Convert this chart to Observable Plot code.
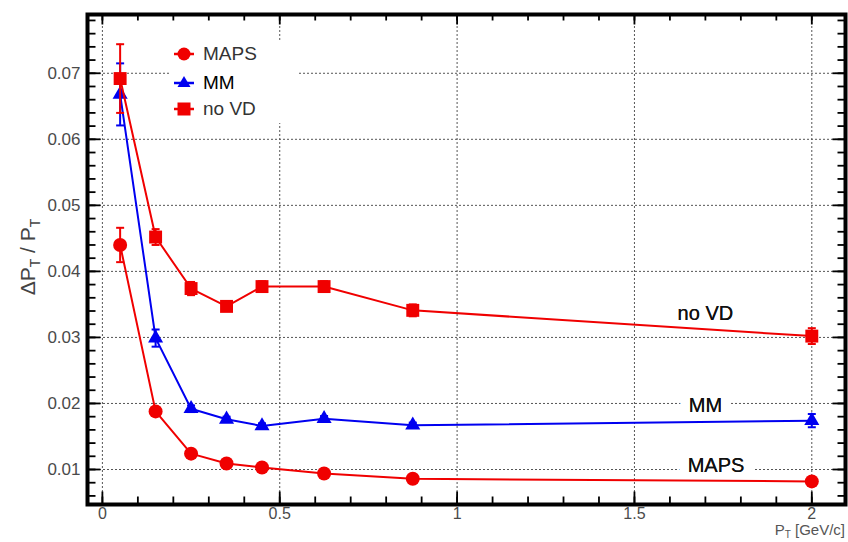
<!DOCTYPE html>
<html><head><meta charset="utf-8">
<script src="https://cdn.jsdelivr.net/npm/d3@7"></script>
<script src="https://cdn.jsdelivr.net/npm/@observablehq/plot@0.6"></script>
<style>
body{margin:0;background:#fff;font-family:"Liberation Sans",Arial,sans-serif}
#wrap{position:relative;width:848px;height:542px}
#legend{position:absolute;left:170px;top:40px;width:127px;height:83px;background:#fff}
.row{position:absolute;left:0;height:24px;width:127px}
.row svg{position:absolute;left:4px;top:0}
.row span{position:absolute;left:33px;top:1px;font-size:19px;color:#333;line-height:22px}
</style></head><body><div id="wrap"></div>
<script>
// data
const pt      = [0.05, 0.15, 0.25, 0.35, 0.45, 0.625, 0.875, 2.0];
const mapsVal = [0.0440, 0.0188, 0.0124, 0.0109, 0.0103, 0.0094, 0.0086, 0.0082];
const mapsErr = [0.0026, 0.0005, 0.0004, 0.0003, 0.0003, 0.0003, 0.0003, 0.0003];
const mmVal   = [0.0668, 0.0299, 0.0192, 0.0176, 0.0166, 0.0177, 0.0167, 0.0174];
const mmErr   = [0.0047, 0.0013, 0.0005, 0.0004, 0.0004, 0.0004, 0.0004, 0.0010];
const novdVal = [0.0692, 0.0452, 0.0374, 0.0347, 0.0377, 0.0377, 0.0341, 0.0302];
const novdErr = [0.0052, 0.0012, 0.0010, 0.0006, 0.0008, 0.0008, 0.0009, 0.0012];
const seriesNames  = ["MAPS", "MM", "no VD"];
const seriesColors = ["#f00000", "#0000f0", "#f00000"];
const seriesSymbols = ["circle", "triangle", "square"];
const xTicks = [0, 0.5, 1, 1.5, 2];
const xTickLabels = ["0", "0.5", "1", "1.5", "2"];
const yTicks = [0.01, 0.02, 0.03, 0.04, 0.05, 0.06, 0.07];
const yTickLabels = ["0.01", "0.02", "0.03", "0.04", "0.05", "0.06", "0.07"];
const curveLabels = ["no VD", "MM", "MAPS"];
const curveLabelX = [1.70, 1.70, 1.73];
const curveLabelY = [0.0336, 0.0197, 0.0106];

const xMinor = d3.range(0, 21).map(i => i / 10);
const yMinor = d3.range(3, 40).map(i => i * 0.002);

const vals = [mapsVal, mmVal, novdVal], errs = [mapsErr, mmErr, novdErr];
const rows = seriesNames.flatMap((s, k) => pt.map((x, i) => ({series: s, x, y: vals[k][i], e: errs[k][i]})));

const W = 848, H = 542, mL = 87, mR = 3, mT = 14, mB = 38;
const cap = {draw(ctx) { ctx.moveTo(-4, 0); ctx.lineTo(4, 0); }};
// inward tick glyphs (length in px)
const seg = (dx, dy) => ({draw(ctx) { ctx.moveTo(0, 0); ctx.lineTo(dx, dy); }});
const font = "Liberation Sans, Arial, sans-serif";
const tk = {stroke: "#000", strokeWidth: 1.8};

const marks = [
  Plot.gridX(xTicks, {stroke: "#555", strokeOpacity: 1, strokeDasharray: "2,2"}),
  Plot.gridY(yTicks, {stroke: "#555", strokeOpacity: 1, strokeDasharray: "2,2"}),
  Plot.text(curveLabels, {x: (d, i) => curveLabelX[i], y: (d, i) => curveLabelY[i], text: d => d,
    fontSize: 20, fill: "#111", stroke: "white", strokeWidth: 20, fontFamily: font})
];
seriesNames.forEach((s, k) => {
  const d = rows.filter(r => r.series === s);
  const c = seriesColors[k];
  marks.push(
    Plot.line(d, {x: "x", y: "y", stroke: c, strokeWidth: 2}),
    Plot.ruleX(d, {x: "x", y1: r => r.y - r.e, y2: r => r.y + r.e, stroke: c, strokeWidth: 2}),
    Plot.dot(d, {x: "x", y: r => r.y + r.e, symbol: cap, stroke: c, strokeWidth: 2}),
    Plot.dot(d, {x: "x", y: r => r.y - r.e, symbol: cap, stroke: c, strokeWidth: 2}),
    Plot.dot(d, {x: "x", y: "y", symbol: seriesSymbols[k], fill: c, stroke: "none",
      r: k === 1 ? 5.6 : (k === 2 ? 7.3 : 7)})
  );
});
marks.push(
  Plot.text(curveLabels, {x: (d, i) => curveLabelX[i], y: (d, i) => curveLabelY[i], text: d => d,
    fontSize: 20, fill: "#111", fontFamily: font}),
  Plot.frame({stroke: "#000", strokeWidth: 4}),
  // inward ticks on all four sides
  Plot.dot(yMinor, {y: d => d, frameAnchor: "left", symbol: seg(8, 0), ...tk}),
  Plot.dot(yTicks, {y: d => d, frameAnchor: "left", symbol: seg(13, 0), ...tk}),
  Plot.dot(yMinor, {y: d => d, frameAnchor: "right", symbol: seg(-8, 0), ...tk}),
  Plot.dot(yTicks, {y: d => d, frameAnchor: "right", symbol: seg(-13, 0), ...tk}),
  Plot.dot(xMinor, {x: d => d, frameAnchor: "bottom", symbol: seg(0, -8), ...tk}),
  Plot.dot(xTicks, {x: d => d, frameAnchor: "bottom", symbol: seg(0, -13), ...tk}),
  Plot.dot(xMinor, {x: d => d, frameAnchor: "top", symbol: seg(0, 6), ...tk}),
  Plot.dot(xTicks, {x: d => d, frameAnchor: "top", symbol: seg(0, 10), ...tk}),
  Plot.axisY(yTicks, {tickSize: 0, tickPadding: 7, tickFormat: (d, i) => yTickLabels[i],
    fontSize: 17, fill: "#4a4a4a", label: null, fontFamily: font}),
  Plot.axisX(xTicks, {tickSize: 0, tickPadding: 3, tickFormat: (d, i) => xTickLabels[i],
    fontSize: 16, fill: "#4a4a4a", label: null, fontFamily: font})
);

const chart = Plot.plot({
  width: W, height: H, marginLeft: mL, marginRight: mR, marginTop: mT, marginBottom: mB,
  style: {background: "white", fontFamily: font},
  x: {domain: [-0.042, 2.095]},
  y: {domain: [0.0047, 0.0789]},
  marks
});
const wrap = document.getElementById("wrap");
wrap.appendChild(chart);

// axis titles with subscripts
const svg = d3.select(chart);
const yt = svg.append("text").attr("transform", "translate(35,257) rotate(-90)")
  .attr("text-anchor", "middle").attr("font-size", 21).attr("fill", "#444").attr("font-family", font);
yt.append("tspan").text("ΔP");
yt.append("tspan").attr("font-size", 14).attr("dy", 5).text("T");
yt.append("tspan").attr("dy", -5).text(" / P");
yt.append("tspan").attr("font-size", 14).attr("dy", 5).text("T");
const xt = svg.append("text").attr("x", 845).attr("y", 535)
  .attr("text-anchor", "end").attr("font-size", 15).attr("fill", "#555").attr("font-family", font);
xt.append("tspan").text("P");
xt.append("tspan").attr("font-size", 10).attr("dy", 3).text("T");
xt.append("tspan").attr("dy", -3).text(" [GeV/c]");

// legend overlay
const leg = document.createElement("div");
leg.id = "legend";
const rowTop = [2, 31, 57];
seriesNames.forEach((s, k) => {
  const r = document.createElement("div");
  r.className = "row"; r.style.top = rowTop[k] + "px";
  const c = seriesColors[k];
  let m;
  if (k === 0) m = `<circle cx="10" cy="12" r="6.5" fill="${c}"/>`;
  else if (k === 1) m = `<path d="M10,5 L16.5,16 L3.5,16 Z" fill="${c}"/>`;
  else m = `<rect x="3.5" y="5.5" width="13" height="13" fill="${c}"/>`;
  r.innerHTML = `<svg width="22" height="24"><line x1="0" x2="20" y1="12" y2="12" stroke="${c}" stroke-width="2.5"/>${m}</svg><span style="${k===1?'color:#000':''}">${s}</span>`;
  leg.appendChild(r);
});
wrap.appendChild(leg);
</script></body></html>
